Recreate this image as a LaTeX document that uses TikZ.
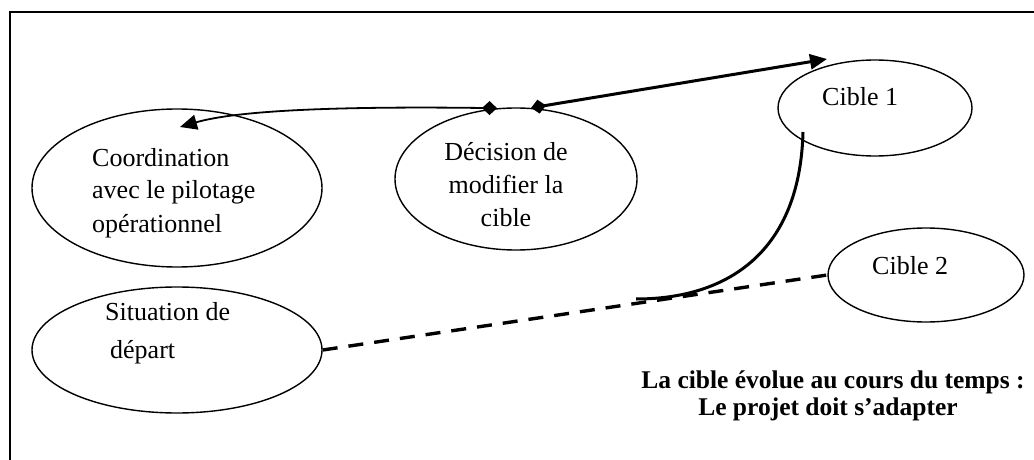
\documentclass[tikz,border=0pt]{standalone}
\usepackage{fontspec}
\setmainfont{Liberation Serif}
\usetikzlibrary{shapes.geometric,arrows.meta}
\tikzset{
  diamondtail/.tip={Diamond[length=15pt,width=14pt]},
  arrowhead/.tip={Triangle[length=17pt,width=15pt]}
}
\begin{document}
\begin{tikzpicture}[x=1pt,y=-1pt,
  bubble/.style={draw,ellipse,line width=1.4pt,inner sep=0pt},
  txt/.style={inner sep=0pt,anchor=west,font=\fontsize{26}{33}\selectfont},
  boldtxt/.style={inner sep=0pt,font=\fontsize{25.5}{30}\selectfont\bfseries},
  thin link/.style={line width=1.8pt},
  thick link/.style={line width=3pt}]
\useasboundingbox (0,0) rectangle (1034,460);
% outer frame, running off the right and bottom edges
\begin{scope}
  \clip (0,0) rectangle (1034,460);
  \draw[line width=2.2pt] (10,480) -- (10,12) -- (1060,12);
\end{scope}

% ellipses
\node[bubble,minimum width=290pt,minimum height=158pt] (coord) at (177,188) {};
\node[bubble,minimum width=242pt,minimum height=142pt] (dec) at (516,179) {};
\node[bubble,minimum width=194pt,minimum height=96pt] (cibleA) at (875,108) {};
\node[bubble,minimum width=196pt,minimum height=94pt] (cibleB) at (926,275) {};
\node[bubble,minimum width=290pt,minimum height=126pt] (sit) at (177,350) {};

% texts
\node[txt] (tcoordA) at (92,158) {Coordination};
\node[txt] (tcoordB) at (92,192) {avec le pilotage};
\node[txt] (tcoordC) at (92,226) {opérationnel};
\node[inner sep=0pt,align=center,font=\fontsize{26}{33}\selectfont] (tdec) at (506,185)
  {Décision de\\modifier la\\cible};
\node[txt] (tcibleA) at (822,97) {Cible 1};
\node[txt] (tcibleB) at (872,266) {Cible 2};
\node[txt] (tsitA) at (105,312) {Situation de};
\node[txt] (tsitB) at (110,352) {départ};
\node[boldtxt] (tnoteA) at (833,382) {La cible évolue au cours du temps :};
\node[boldtxt] (tnoteB) at (828,409) {Le projet doit s’adapter};

% free ends of the connectors
\coordinate (coordtip) at (180,127);
\coordinate (cibletip) at (827,59);
\coordinate (curvestart) at (803,132);
\coordinate (curveend) at (636,299);

% coordination link
\draw[thin link,diamondtail-arrowhead] (dec.105)
  .. controls (330,106) and (235,111) .. (coordtip);
% link to the first target
\draw[thick link,diamondtail-arrowhead] (dec.78) -- (cibletip);
% drift of the target
\draw[thick link] (curvestart) .. controls (800,250) and (730,299) .. (curveend);
% path from the starting situation
\draw[line width=3.4pt,dash pattern=on 15pt off 11pt] (sit.east) -- (cibleB.west);
\end{tikzpicture}
\end{document}
